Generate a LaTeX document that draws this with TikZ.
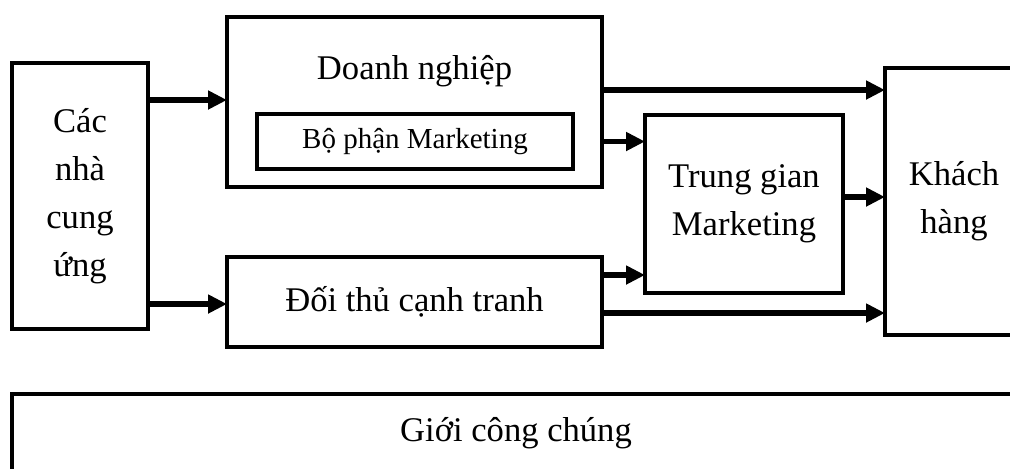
\documentclass[tikz,border=0pt]{standalone}
\usepackage{fontspec}
\setmainfont{Liberation Serif}
\usetikzlibrary{arrows.meta}

\begin{document}
\begin{tikzpicture}[x=0.5pt,y=-0.5pt,
    box/.style={draw, line width=2pt, inner sep=0pt, outer sep=0pt, align=center,
        font=\fontsize{17.3}{24}\selectfont},
    arr/.style={line width=2.8pt, -{Triangle[length=9.5pt,width=9pt]}}]

% Frame of the picture (the original is cut off at right and bottom)
\useasboundingbox (0,0) rectangle (1010,468);
\clip (0,0) rectangle (1010,468);

% Boxes
\node[box, minimum width=68pt, minimum height=133pt] (sup) at (80,196) {Các\\nhà\\cung\\ứng}; % Suppliers
\node[box, minimum width=187.5pt, minimum height=85pt] (dn) at (414.5,102) {}; % Company
\node (dntext) at (414.5,71) {\fontsize{17.3}{24}\selectfont Doanh nghiệp};
\node[box, minimum width=158pt, minimum height=27.5pt, font=\fontsize{14.5}{18}\selectfont] (mkt) at (415,141.5) {Bộ phận Marketing}; % Inner box
\node[box, minimum width=187.5pt, minimum height=45pt] (dt) at (414.5,302) {Đối thủ cạnh tranh}; % Competitors
\node[box, minimum width=99pt, minimum height=89pt] (tg) at (744,204) {Trung gian\\Marketing}; % Intermediaries
\node[box, minimum width=69pt, minimum height=133.5pt] (kh) at (954,201.5) {Khách\\hàng}; % Customers
\node[box, minimum width=504pt, minimum height=39pt] (pub) at (516,433) {Giới công chúng}; % Publics

% Arrows from the suppliers
\draw[arr] ([yshift=1pt]sup.east |- dn.west) -- ([yshift=1pt]dn.west);
\draw[arr] ([yshift=-1pt]sup.east |- dt.west) -- ([yshift=-1pt]dt.west);

% Arrows from the company
\draw[arr] ([yshift=6pt]dn.east) -- ([yshift=6pt]dn.east -| kh.west);
\draw[arr] (dn.east |- mkt.east) -- (mkt.east -| tg.west);

% Arrows from the competitors
\draw[arr] ([yshift=-9pt]dt.north east) -- ([yshift=-9pt]dt.north east -| tg.west);
\draw[arr] ([yshift=-5.5pt]dt.east) -- ([yshift=-5.5pt]dt.east -| kh.west);

% Intermediaries to customers
\draw[arr] ([yshift=3.5pt]tg.east) -- ([yshift=3.5pt]tg.east -| kh.west);

\end{tikzpicture}
\end{document}
